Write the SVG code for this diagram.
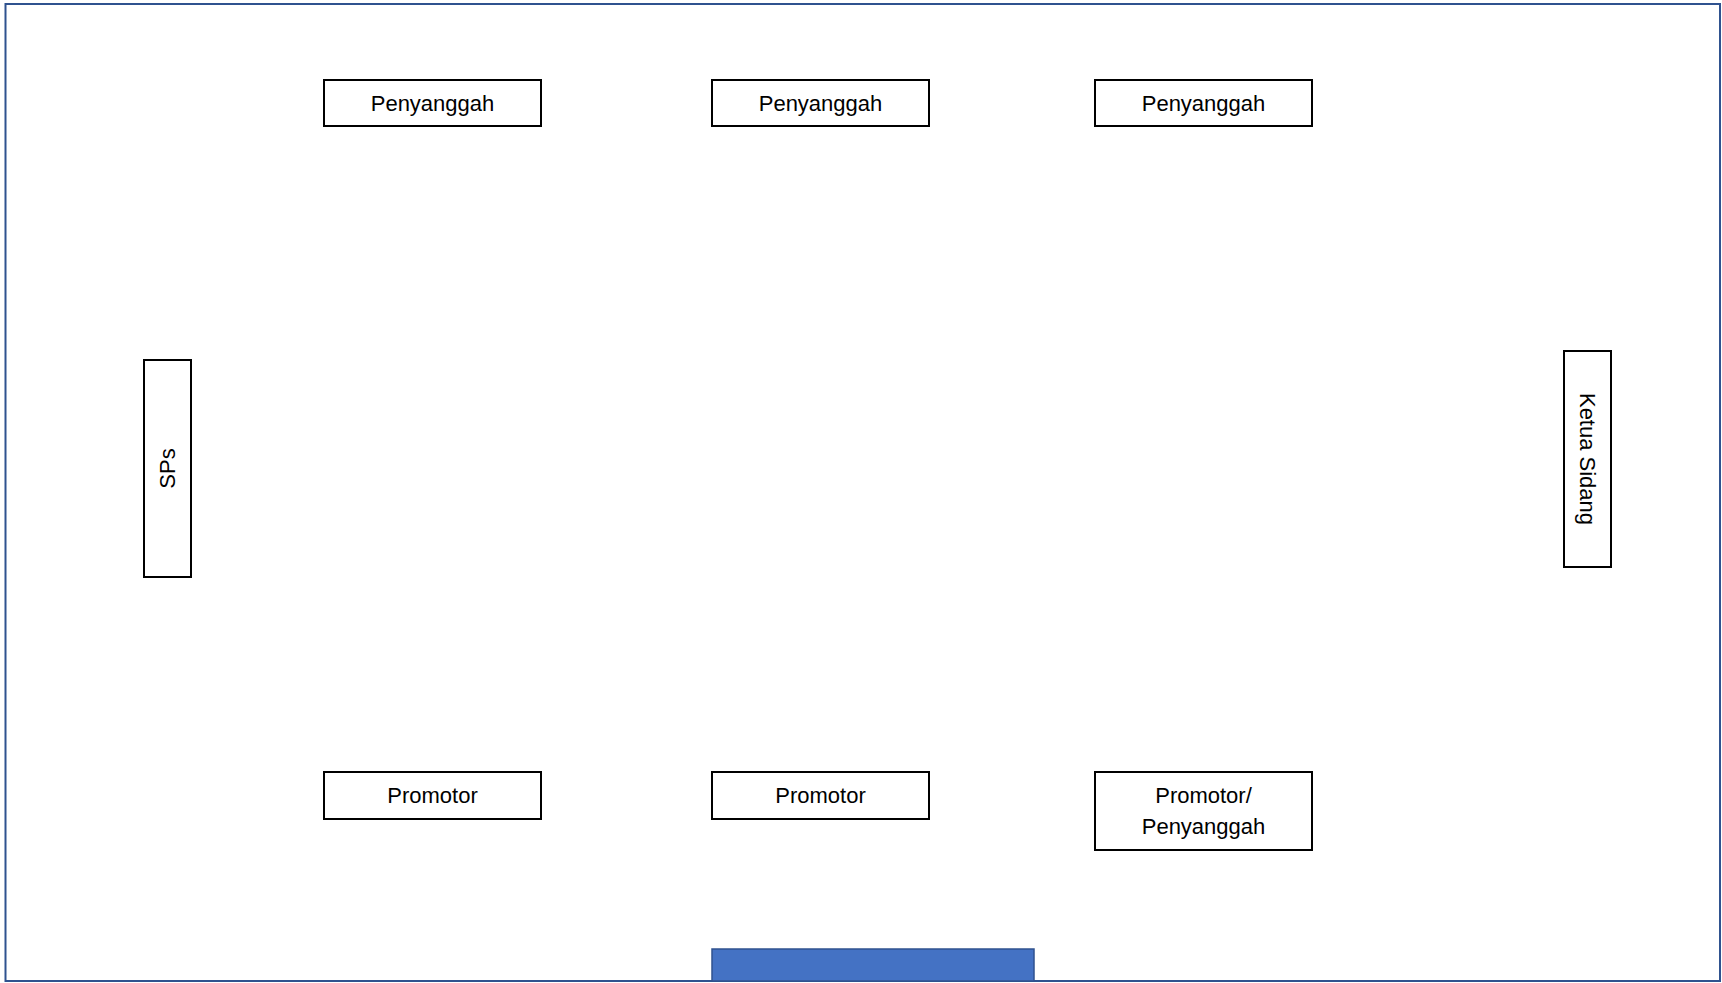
<svg xmlns="http://www.w3.org/2000/svg" width="1722" height="983" viewBox="0 0 1722 983">
<style>
.box{fill:#fff;stroke:#000;stroke-width:2}
.t{font-family:"Liberation Sans",Arial,sans-serif;font-size:22px;fill:#000;text-anchor:middle;dominant-baseline:central}
</style>
<rect x="0" y="0" width="1722" height="983" fill="#fff"/>
<rect id="frame" x="5.5" y="4" width="1714.5" height="977" fill="#fff" stroke="#2F528F" stroke-width="2"/>
<g id="penyanggah1"><rect class="box" x="324" y="80" width="217" height="46"/><text class="t" x="432.5" y="103">Penyanggah</text></g>
<g id="penyanggah2"><rect class="box" x="712" y="80" width="217" height="46"/><text class="t" x="820.5" y="103">Penyanggah</text></g>
<g id="penyanggah3"><rect class="box" x="1095" y="80" width="217" height="46"/><text class="t" x="1203.5" y="103">Penyanggah</text></g>
<g id="sps"><rect class="box" x="144" y="360" width="47" height="217"/><text class="t" transform="translate(167.5 468.5) rotate(-90)" x="0" y="0">SPs</text></g>
<g id="ketua"><rect class="box" x="1564" y="351" width="47" height="216"/><text class="t" transform="translate(1587.5 459) rotate(90)" x="0" y="0">Ketua Sidang</text></g>
<g id="promotor1"><rect class="box" x="324" y="772" width="217" height="47"/><text class="t" x="432.5" y="795.5">Promotor</text></g>
<g id="promotor2"><rect class="box" x="712" y="772" width="217" height="47"/><text class="t" x="820.5" y="795.5">Promotor</text></g>
<g id="promotor3"><rect class="box" x="1095" y="772" width="217" height="78"/><text class="t" x="1203.5" y="795">Promotor/</text><text class="t" x="1203.5" y="826">Penyanggah</text></g>
<g id="door"><rect x="712" y="949" width="322" height="32" fill="#4472C4" stroke="#2F528F" stroke-width="1.5"/></g>
<g id="connectors"></g>
</svg>
